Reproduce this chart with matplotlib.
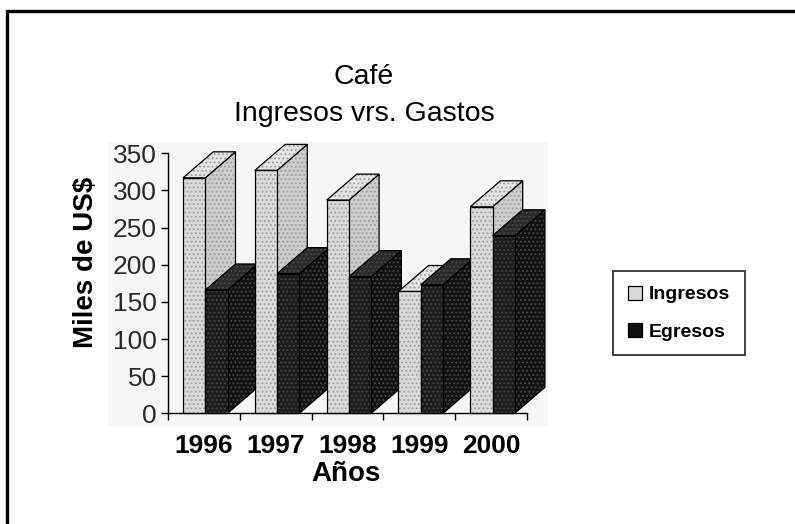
import numpy as np
import matplotlib.pyplot as plt
from matplotlib.patches import Polygon, Rectangle, Patch

plt.rcParams['font.family'] = ['Liberation Sans', 'DejaVu Sans']
plt.rcParams['hatch.linewidth'] = 0.8

# Data (miles de US$)
years = ["1996", "1997", "1998", "1999", "2000"]
ingresos = [317, 327, 287, 164, 278]
egresos = [166, 188, 184, 173, 239]
series_names = ["Ingresos", "Egresos"]

# oblique "3D" look: depth offset in category units / value units
DEPTH_X = 0.42
DEPTH_Y = 35
BAR_W = 0.31
OFFSETS = [0.21, 0.52]

# face colours (front, top, side) and stipple dot colour
STYLES = {
    "Ingresos": ("#dadada", "#e4e4e4", "#cdcdcd", "#9c9c9c"),
    "Egresos": ("#1c1c1c", "#2a2a2a", "#121212", "#4a4a4a"),
}

W, H = 795, 524
fig = plt.figure(figsize=(W / 100, H / 100), dpi=100)

# outer frame of the scanned page (right/bottom edges fall off the image)
fig.patches.append(Rectangle((7 / W, -0.1), 1.2, 1 - 11 / H + 0.1,
                             transform=fig.transFigure, fill=False,
                             edgecolor="black", linewidth=2.4, zorder=-2))
# faint grey plot-area background from the scan
fig.patches.append(Rectangle((108 / W, 1 - 427 / H), 440 / W, 285 / H,
                             transform=fig.transFigure, facecolor="#f6f6f7",
                             edgecolor="none", zorder=-2))

ax = fig.add_axes([168 / W, 1 - 413.3 / H, 359 / W, 260 / H])
ax.patch.set_visible(False)
ax.set_xlim(0, len(years))
ax.set_ylim(0, 350)


def face(pts, fc, dotc):
    # stippled fill first, then a crisp black outline on top
    ax.add_patch(Polygon(pts, closed=True, facecolor=fc, edgecolor=dotc,
                         linewidth=0, hatch="....", clip_on=False, zorder=3))
    ax.add_patch(Polygon(pts, closed=True, fill=False, edgecolor="black",
                         linewidth=0.9, clip_on=False, zorder=3))


def draw_bar(x0, h, style):
    front, top, side, dots = style
    x1 = x0 + BAR_W
    face([(x1, 0), (x1 + DEPTH_X, DEPTH_Y), (x1 + DEPTH_X, h + DEPTH_Y),
          (x1, h)], side, dots)
    face([(x0, h), (x1, h), (x1 + DEPTH_X, h + DEPTH_Y),
          (x0 + DEPTH_X, h + DEPTH_Y)], top, dots)
    face([(x0, 0), (x1, 0), (x1, h), (x0, h)], front, dots)


for i in range(len(years)):
    for name, vals, off in zip(series_names, [ingresos, egresos], OFFSETS):
        draw_bar(i + off, vals[i], STYLES[name])

ax.spines["top"].set_visible(False)
ax.spines["right"].set_visible(False)
ax.spines["left"].set_linewidth(1.0)
ax.spines["bottom"].set_linewidth(1.0)

ax.set_yticks(np.arange(0, 351, 50))
ax.tick_params(axis="y", direction="out", length=5, width=1, pad=3,
               labelsize=19, labelcolor="#2a2a2a")

centers = np.arange(len(years)) + 0.5
ax.set_xticks(centers)
ax.set_xticklabels(years, fontsize=19, fontweight="bold")
ax.set_xticks(np.arange(len(years) + 1), minor=True)
ax.tick_params(axis="x", which="major", length=0, pad=15)
ax.tick_params(axis="x", which="minor", direction="out", length=5, width=1)

fig.text(364 / W, 1 - 77 / H, "Café", ha="center", va="center", fontsize=20.5)
fig.text(364 / W, 1 - 114 / H, "Ingresos vrs. Gastos", ha="center",
         va="center", fontsize=20.5)
fig.text(86 / W, 1 - 262 / H, "Miles de US$", ha="center", va="center",
         rotation=90, fontsize=20, fontweight="bold")
fig.text(346 / W, 1 - 474 / H, "Años", ha="center", va="center",
         fontsize=20, fontweight="bold")

handles = [Patch(facecolor=STYLES["Ingresos"][0], edgecolor="black",
                 linewidth=0.9),
           Patch(facecolor="#111111", edgecolor="black", linewidth=0.9)]
leg = fig.legend(handles, series_names, loc="upper left",
                 bbox_to_anchor=(613 / W, 1 - 271 / H),
                 prop={"size": 14, "weight": "bold"}, frameon=True,
                 fancybox=False, handlelength=0.75, handleheight=0.75,
                 handletextpad=0.35, labelspacing=1.0, borderpad=0.75,
                 borderaxespad=0)
leg.get_frame().set_edgecolor("black")
leg.get_frame().set_linewidth(1.3)

fig.savefig("out.png", dpi=100)
